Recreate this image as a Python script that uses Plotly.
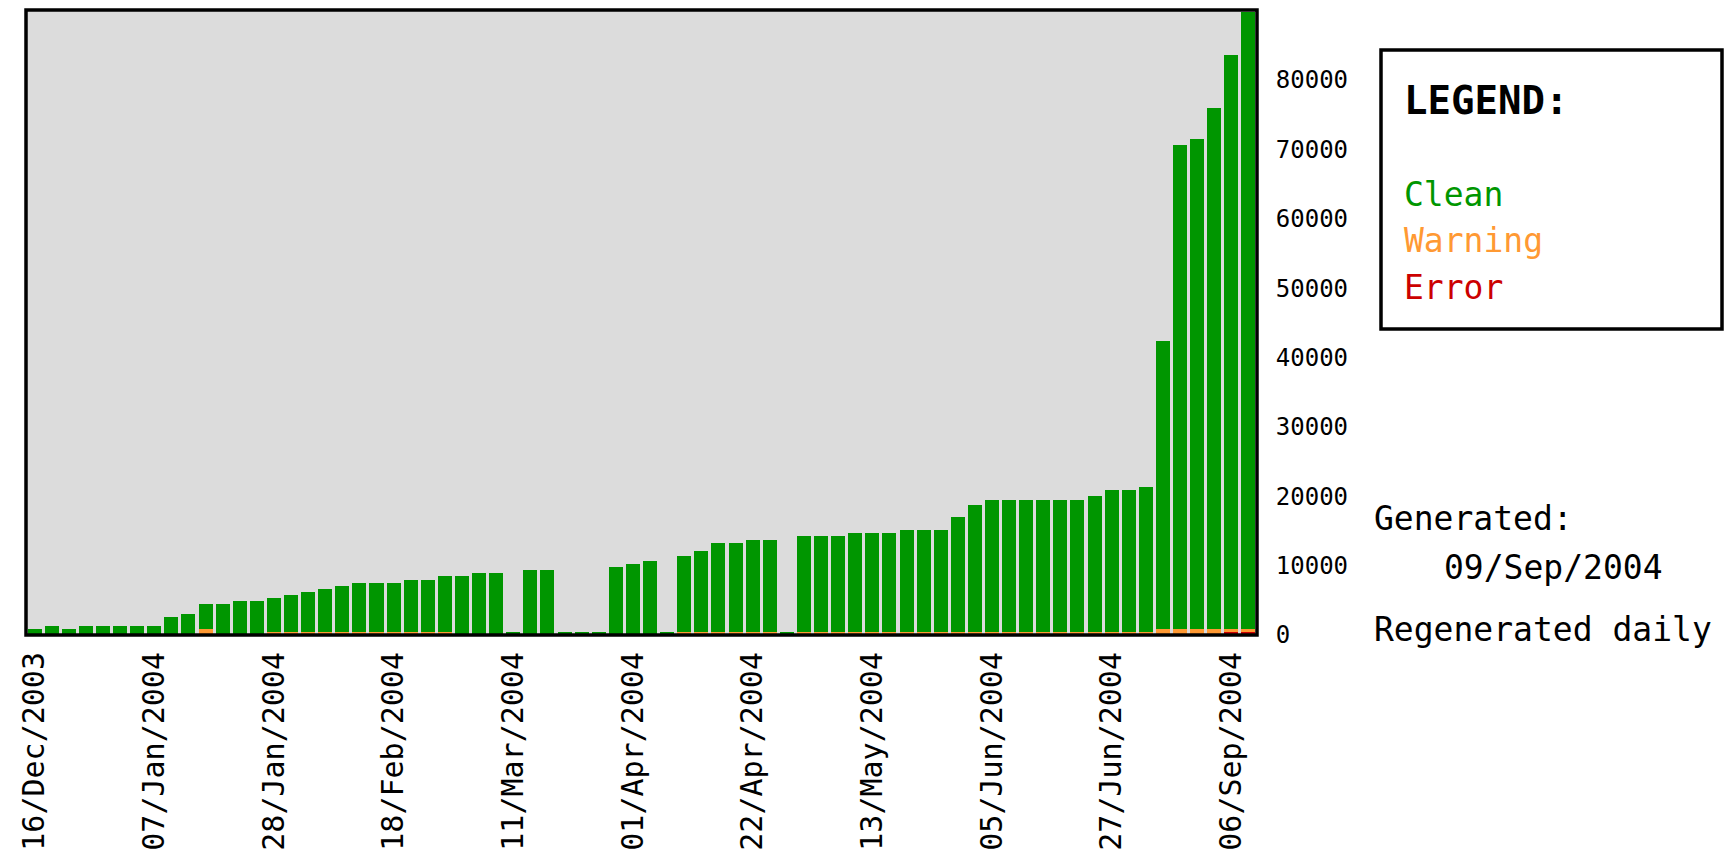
import plotly.graph_objects as go

# ---- data ----
dates = [
    "16/Dec/2003", "19/Dec/2003", "22/Dec/2003", "25/Dec/2003", "28/Dec/2003", "31/Dec/2003",
    "04/Jan/2004", "07/Jan/2004", "10/Jan/2004", "13/Jan/2004", "16/Jan/2004", "19/Jan/2004",
    "22/Jan/2004", "25/Jan/2004", "28/Jan/2004", "31/Jan/2004", "03/Feb/2004", "06/Feb/2004",
    "09/Feb/2004", "12/Feb/2004", "15/Feb/2004", "18/Feb/2004", "21/Feb/2004", "24/Feb/2004",
    "27/Feb/2004", "01/Mar/2004", "04/Mar/2004", "07/Mar/2004", "11/Mar/2004", "14/Mar/2004",
    "17/Mar/2004", "20/Mar/2004", "23/Mar/2004", "26/Mar/2004", "29/Mar/2004", "01/Apr/2004",
    "04/Apr/2004", "07/Apr/2004", "10/Apr/2004", "13/Apr/2004", "16/Apr/2004", "19/Apr/2004",
    "22/Apr/2004", "25/Apr/2004", "28/Apr/2004", "01/May/2004", "04/May/2004", "07/May/2004",
    "10/May/2004", "13/May/2004", "16/May/2004", "19/May/2004", "22/May/2004", "25/May/2004",
    "28/May/2004", "01/Jun/2004", "05/Jun/2004", "08/Jun/2004", "11/Jun/2004", "14/Jun/2004",
    "17/Jun/2004", "20/Jun/2004", "23/Jun/2004", "27/Jun/2004", "07/Jul/2004", "17/Jul/2004",
    "27/Jul/2004", "06/Aug/2004", "16/Aug/2004", "26/Aug/2004", "06/Sep/2004", "09/Sep/2004",
]

clean = [
    850, 1270, 850, 1270, 1270, 1270, 1270, 1270, 2545, 2970,
    3565, 4425, 4850, 4850, 4840, 5270, 5750, 6170, 6600, 7020,
    7020, 7020, 7570, 7570, 8055, 8485, 8900, 8900, 420, 9330,
    9330, 420, 420, 420, 9760, 10180, 10600, 420, 11020, 11630,
    12900, 12900, 13330, 13330, 420, 13810, 13810, 13810, 14240, 14240,
    14240, 14660, 14660, 14660, 16540, 18240, 19085, 19085, 19085, 19085,
    19085, 19085, 19570, 20540, 20540, 20960, 41560, 69810, 70640, 75140,
    82780, 88940,
]

warning = [
    0, 0, 0, 0, 0, 0, 0, 0, 0, 0,
    860, 0, 0, 0, 430, 430, 430, 430, 430, 430,
    430, 430, 430, 430, 430, 0, 0, 0, 0, 0,
    0, 0, 0, 0, 0, 0, 0, 0, 430, 430,
    430, 430, 430, 430, 0, 430, 430, 430, 430, 430,
    430, 430, 430, 430, 430, 430, 430, 430, 430, 430,
    430, 430, 430, 430, 430, 430, 860, 860, 860, 860,
    430, 430,
]

error = [0] * 70 + [430, 430]

tick_labels = [
    "16/Dec/2003", "07/Jan/2004", "28/Jan/2004", "18/Feb/2004", "11/Mar/2004",
    "01/Apr/2004", "22/Apr/2004", "13/May/2004", "05/Jun/2004", "27/Jun/2004",
    "06/Sep/2004",
]
y_ticks = [0, 10000, 20000, 30000, 40000, 50000, 60000, 70000, 80000]

GREEN = "#009600"
ORANGE = "#FF9933"
RED = "#CC0000"
FONT = "DejaVu Sans Mono"

W, H = 1732, 854
L, R, T, B = 26, 1257, 10, 635
PW, PH = R - L, B - T


def px(x):
    return (x - L) / PW


def py(y):
    return (B - y) / PH


fig = go.Figure()
fig.add_trace(go.Bar(x=dates, y=error, name="Error", marker=dict(color=RED, line=dict(width=0))))
fig.add_trace(go.Bar(x=dates, y=warning, name="Warning", marker=dict(color=ORANGE, line=dict(width=0))))
fig.add_trace(go.Bar(x=dates, y=clean, name="Clean", marker=dict(color=GREEN, line=dict(width=0))))

fig.update_layout(
    template="none",
    width=W, height=H,
    margin=dict(l=L, r=W - R, t=T, b=H - B, pad=0),
    barmode="stack",
    bargap=0.18,
    showlegend=False,
    paper_bgcolor="white",
    plot_bgcolor="#DCDCDC",
    font=dict(family=FONT, color="black"),
    xaxis=dict(
        type="category",
        categoryorder="array", categoryarray=dates,
        range=[-0.5, len(dates) - 0.5],
        tickmode="array", tickvals=tick_labels, ticktext=tick_labels,
        tickangle=-90,
        ticks="outside", ticklen=4, tickcolor="rgba(0,0,0,0)",
        tickfont=dict(family=FONT, size=30, color="black"),
        showgrid=False, zeroline=False, showline=False,
        automargin=False, fixedrange=True,
    ),
    yaxis=dict(
        side="right",
        range=[0, 90100],
        tickmode="array", tickvals=y_ticks, ticktext=[str(v) for v in y_ticks],
        ticks="outside", ticklen=13, tickcolor="rgba(0,0,0,0)",
        tickfont=dict(family=FONT, size=24, color="black"),
        showgrid=False, zeroline=False, showline=False,
        automargin=False, fixedrange=True,
    ),
)

# plot border
fig.add_shape(type="rect", xref="paper", yref="paper", x0=0, x1=1, y0=0, y1=1,
              line=dict(color="black", width=3.5), fillcolor="rgba(0,0,0,0)", layer="above")

# legend box
fig.add_shape(type="rect", xref="paper", yref="paper",
              x0=px(1381), x1=px(1722), y0=py(329), y1=py(50),
              line=dict(color="black", width=3.5), fillcolor="white", layer="above")


def note(text, x, y, size, color="black", bold=False):
    fig.add_annotation(
        text=f"<b>{text}</b>" if bold else text,
        xref="paper", yref="paper", x=px(x), y=py(y),
        xanchor="left", yanchor="middle", showarrow=False,
        font=dict(family=FONT, size=size, color=color),
    )


note("LEGEND:", 1402, 101, 39, bold=True)
note("Clean", 1402, 194, 33, GREEN)
note("Warning", 1402, 240, 33, ORANGE)
note("Error", 1402, 287, 33, RED)
note("Generated:", 1372, 518, 33)
note("09/Sep/2004", 1442, 567, 33)
note("Regenerated daily", 1372, 629, 33)

fig.write_html(
    "out.html",
    config={"displayModeBar": False},
    post_script="document.body.style.margin='0';document.body.style.overflow='hidden';",
)
